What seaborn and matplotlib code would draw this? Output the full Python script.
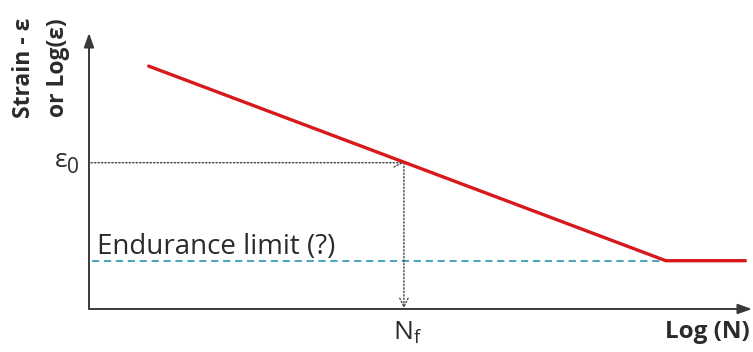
import matplotlib
matplotlib.use("Agg")
import matplotlib.pyplot as plt
import seaborn as sns
import pandas as pd

# Strain-life curve (schematic), in arbitrary log units
log_n = [0.9, 8.7, 9.9]
strain = [8.8, 1.75, 1.75]

# Reference point on the curve and the endurance limit
nf = 4.75
eps0 = 5.3
endurance = 1.75

x_max = 10.0
y_max = 10.0

sns.set_theme(style="white")
plt.rcParams["font.family"] = ["Open Sans", "DejaVu Sans"]
plt.rcParams["mathtext.default"] = "regular"

fig = plt.figure(figsize=(7.53, 3.52), dpi=100)
ax = fig.add_axes([89 / 753, 43 / 352, 663 / 753, 276 / 352])
ax.set_xlim(0, x_max)
ax.set_ylim(0, y_max)
ax.patch.set_alpha(0)

axis_col = "#3a3a3a"
for s in ["top", "right", "left", "bottom"]:
    ax.spines[s].set_visible(False)
ax.set_xticks([])
ax.set_yticks([])

# axis arrows
arrow_kw = dict(arrowstyle="-|>,head_length=0.7,head_width=0.25", color=axis_col,
                lw=1.4, shrinkA=0, shrinkB=0)
ax.annotate("", xy=(0, 1.0), xytext=(0, 0), xycoords="axes fraction",
            arrowprops=arrow_kw)
ax.annotate("", xy=(1.0, 0), xytext=(0, 0), xycoords="axes fraction",
            arrowprops=arrow_kw)

# endurance limit
ax.plot([0.05, log_n[1]], [endurance, endurance], color="#3a9db5", lw=1.3,
        ls=(0, (4, 2.6)), zorder=2)

# strain-life curve
df = pd.DataFrame({"log_n": log_n, "strain": strain})
sns.lineplot(data=df, x="log_n", y="strain", color="#d7191c", lw=2.4, ax=ax,
             zorder=3, sort=False)
ax.set_xlabel("")
ax.set_ylabel("")

# dotted guides with open arrow heads
guide_kw = dict(arrowstyle="->,head_length=0.5,head_width=0.25", color="#444444",
                lw=1.0, ls=(0, (1, 1.5)), shrinkA=0, shrinkB=0)
ax.annotate("", xy=(nf, eps0), xytext=(0.03, eps0), arrowprops=guide_kw, zorder=2)
ax.annotate("", xy=(nf, 0.03), xytext=(nf, eps0), arrowprops=guide_kw, zorder=2)

txt_col = "#2b2b2b"
ax.text(0.12, endurance + 0.25, "Endurance limit (?)", fontsize=20, color=txt_col,
        ha="left", va="baseline")
ax.text(-0.33, 5.14, "ε", fontsize=19, color=txt_col, ha="right", va="baseline",
        clip_on=False)
ax.text(-0.33, 4.93, "0", fontsize=15, color=txt_col, ha="left", va="baseline",
        clip_on=False)
ax.text(nf + 0.05, -1.12, "N$_f$", fontsize=19, color=txt_col, ha="center",
        va="baseline", clip_on=False)
ax.text(9.97, -1.05, "Log (N)", fontsize=17.5, fontweight="bold", color=txt_col,
        ha="right", va="baseline", clip_on=False)

fig.text(41 / 753, 1 - 68 / 352, "Strain - ε\nor Log(ε)", rotation=90, fontsize=16.5,
         fontweight="bold", color=txt_col, ha="center", va="center",
         multialignment="center", linespacing=1.5)

fig.savefig("out.png", dpi=100, facecolor="white")
